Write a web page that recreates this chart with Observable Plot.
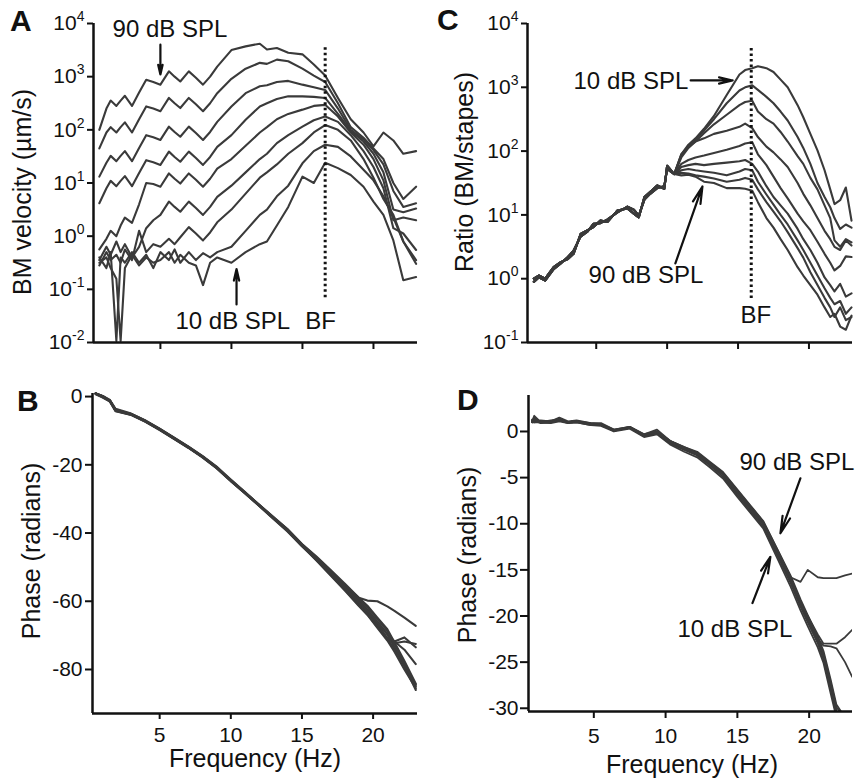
<!DOCTYPE html>
<html>
<head>
<meta charset="utf-8">
<script src="https://cdn.jsdelivr.net/npm/d3@7"></script>
<script src="https://cdn.jsdelivr.net/npm/@observablehq/plot@0.6"></script>
<style>
  html, body { margin: 0; padding: 0; background: #fff; }
  #fig { position: relative; width: 860px; height: 782px; overflow: hidden; background: #fff; }
  #fig svg { position: absolute; }
</style>
</head>
<body>
<div id="fig"></div>
<script>
const FONT = '"Liberation Sans", Arial, Helvetica, sans-serif';
const INK = "#3a3a3a";
const AXIS = "#111";
const TICK_FONT = 21;

const levels = [10, 20, 30, 40, 50, 60, 70, 80, 90]; // dB SPL
const xTicks = [5, 10, 15, 20];

// ---------- Panel A: BM velocity, values given as log10(µm/s) ----------
const freqA = [0.7,1.2,1.5,1.9,2.2,2.5,3.0,3.5,4.0,4.5,5.0,5.6,6.0,6.4,7.0,7.5,8.0,8.5,9.0,10,11,12,12.5,13.2,14,15,15.8,16.6,17.5,18.4,19.3,20,20.7,21.4,22.1,23];
const velA10 = [-0.5,-0.4,-0.6,-0.8,-1.97,-0.6,-0.35,-0.55,-0.4,-0.5,-0.45,-0.3,-0.5,-0.35,-0.5,-0.55,-0.92,-0.5,-0.4,-0.5,-0.3,-0.15,-0.1,0.2,0.55,1.12,1.0,1.38,1.28,1.15,0.93,0.65,0.4,-0.08,-0.83,-0.77];
const velA20 = [-0.4,-0.6,-0.3,-1.97,-0.4,-0.5,-0.3,-0.5,-0.35,-0.6,-0.3,-0.45,-0.25,-0.5,-0.3,-0.45,-0.32,-0.4,-0.3,-0.2,0.1,0.4,0.5,0.75,0.95,1.37,1.6,1.72,1.68,1.5,1.25,1.05,0.75,0.35,-0.1,-0.45];
const velA30 = [-0.55,-0.3,-0.45,-0.35,-0.5,-0.25,-0.45,0.1,-0.3,-0.15,-0.2,-0.05,-0.15,-0.02,0.17,0.05,-0.08,0.07,0.26,0.5,0.8,1.1,1.2,1.35,1.55,1.75,1.95,2.09,2.0,1.8,1.45,1.1,0.7,0.4,-0.1,-0.52];
const velA40 = [-0.45,-0.2,-0.35,-0.1,-0.3,-0.15,-0.4,-0.2,0.15,0.3,0.4,0.65,0.55,0.46,0.65,0.53,0.4,0.55,0.74,0.95,1.2,1.45,1.55,1.75,1.9,2.06,2.18,2.25,2.15,1.9,1.6,1.3,0.9,0.15,0.05,-0.26];
const velA50 = [-0.25,-0.05,0.1,0.0,0.2,0.35,0.25,0.6,1.0,0.98,0.93,1.18,1.08,0.99,1.18,1.06,0.93,1.08,1.27,1.45,1.7,1.95,2.05,2.2,2.3,2.38,2.45,2.47,2.25,1.95,1.72,1.45,1.05,0.3,0.35,0.3];
const velA60 = [0.62,0.9,1.04,0.94,1.04,1.13,0.94,1.19,1.43,1.39,1.34,1.59,1.49,1.4,1.59,1.47,1.34,1.49,1.68,1.9,2.19,2.44,2.5,2.58,2.63,2.63,2.62,2.6,2.3,1.98,1.78,1.55,1.2,0.5,0.45,0.52];
const velA70 = [1.12,1.38,1.51,1.41,1.51,1.6,1.41,1.66,1.9,1.86,1.81,2.06,1.96,1.87,2.06,1.94,1.81,1.96,2.15,2.44,2.69,2.82,2.84,2.9,2.92,2.85,2.8,2.75,2.4,2.0,1.82,1.62,1.35,0.85,0.55,0.62];
const velA80 = [1.65,1.95,2.05,1.95,2.05,2.14,1.95,2.2,2.44,2.4,2.35,2.6,2.5,2.41,2.6,2.48,2.35,2.5,2.69,2.96,3.15,3.26,3.24,3.32,3.29,3.15,3.02,2.9,2.5,2.05,1.85,1.65,1.45,1.0,0.7,0.93];
const velA90 = [2.0,2.4,2.55,2.45,2.55,2.64,2.45,2.7,2.94,2.9,2.85,3.1,3.0,2.91,3.1,2.98,2.85,3.0,3.19,3.5,3.57,3.62,3.51,3.54,3.45,3.42,3.23,3.02,2.6,2.2,1.95,1.69,1.95,1.8,1.55,1.6];
const yTicksA = [0.01, 0.1, 1, 10, 100, 1000, 10000];
const notesA = ["90 dB SPL", "10 dB SPL", "BF"];
const notesA_f = [1.63, 6.06, 15.2];
const notesA_v = [5600, 0.018, 0.018];
const arrowsA_f = [5.0, 10.36];
const arrowsA_from = [4000, 0.052];
const arrowsA_to = [1100, 0.24];
const bfA = {f: 16.6, top: 3500, bottom: 0.062};

// ---------- Panel C: ratio BM/stapes, values given as log10 ----------
const freqC = [0.6,0.95,1.4,2.0,2.5,3.0,3.4,3.9,4.4,4.8,5.3,5.8,6.5,7.2,7.65,8.0,8.4,8.8,9.3,9.8,10.0,10.5,11.0,11.5,12.0,12.6,13.3,14.2,15.1,15.5,16.0,16.4,17.0,17.5,18.0,18.5,19.2,19.6,20.1,20.6,21.1,21.5,21.8,22.2,22.6,23.0];
const ratioLowA = [0.0,0.05,0.0,0.18,0.26,0.31,0.39,0.70,0.76,0.81,0.91,0.89,1.07,1.10,1.02,0.96,1.28,1.36,1.46,1.41,1.77];
const ratioLowB = [-0.05,0.02,-0.03,0.15,0.24,0.34,0.44,0.66,0.74,0.86,0.87,0.93,1.04,1.13,1.08,0.99,1.24,1.33,1.42,1.45,1.72];
const ratioHigh10 = [1.64,1.95,2.1,2.2,2.35,2.55,2.88,3.2,3.27,3.3,3.33,3.3,3.24,3.12,3.0,2.72,2.53,2.27,2.01,1.7,1.4,1.17,1.23,1.43,0.91];
const ratioHigh20 = [1.64,1.93,2.08,2.18,2.32,2.5,2.75,2.95,3.0,3.03,2.96,2.85,2.75,2.62,2.48,2.22,2.05,1.8,1.5,1.28,1.12,0.95,0.78,0.85,0.8];
const ratioHigh30 = [1.64,1.9,2.05,2.15,2.28,2.42,2.57,2.72,2.77,2.79,2.62,2.5,2.43,2.3,2.15,1.92,1.8,1.58,1.4,1.15,0.95,0.6,0.5,0.62,0.57];
const ratioHigh40 = [1.64,1.95,2.07,2.15,2.2,2.27,2.32,2.38,2.43,2.36,2.22,2.07,1.98,1.87,1.75,1.5,1.33,1.15,0.95,0.75,0.62,0.5,0.45,0.6,0.52];
const ratioHigh50 = [1.64,1.8,1.86,1.9,1.93,1.97,2.02,2.08,2.12,2.14,1.95,1.78,1.6,1.42,1.26,1.02,0.9,0.76,0.58,0.39,0.25,0.13,0.2,0.35,0.34];
const ratioHigh60 = [1.64,1.75,1.78,1.8,1.78,1.8,1.82,1.84,1.86,1.8,1.68,1.45,1.28,1.15,1.02,0.78,0.62,0.45,0.25,0.02,-0.1,-0.2,-0.08,-0.28,-0.23];
const ratioHigh70 = [1.64,1.7,1.72,1.7,1.68,1.66,1.62,1.68,1.72,1.7,1.52,1.32,1.16,1.0,0.85,0.6,0.45,0.25,0.05,-0.15,-0.3,-0.4,-0.35,-0.55,-0.45];
const ratioHigh80 = [1.64,1.66,1.65,1.62,1.6,1.57,1.52,1.55,1.58,1.55,1.4,1.2,1.05,0.9,0.73,0.48,0.33,0.1,-0.1,-0.3,-0.45,-0.6,-0.45,-0.65,-0.6];
const ratioHigh90 = [1.64,1.62,1.63,1.6,1.52,1.5,1.42,1.42,1.41,1.38,1.2,0.95,0.8,0.62,0.45,0.18,0.05,-0.1,-0.25,-0.45,-0.6,-0.55,-0.75,-0.8,-0.58];
const yTicksC = [0.1, 1, 10, 100, 1000, 10000];
const notesC = ["10 dB SPL", "90 dB SPL", "BF"];
const notesC_f = [3.4, 4.46, 15.18];
const notesC_v = [955, 0.87, 0.2];
const arrowsC_f1 = [11.66, 10.58];
const arrowsC_v1 = [1280, 1.74];
const arrowsC_f2 = [14.62, 12.49];
const arrowsC_v2 = [1280, 27.9];
const bfC = {f: 15.93, top: 4070, bottom: 0.455};

// ---------- Panel B: phase (radians) of BM velocity ----------
const freqB = [0.5,1.0,1.5,1.9,3.0,4.0,5.0,6.0,7.0,8.0,9.0,10,11,12,13,14,15,16,17,18,19,19.6,20.3,21.0,21.5,22.2,23.0];
const phaseB10 = [0.8,-0.2,-1.3,-4.2,-5.3,-7.3,-9.7,-12.3,-14.9,-17.7,-20.9,-24.7,-28.3,-32.0,-35.7,-39.4,-43.8,-48.0,-52.4,-56.8,-61.4,-64.0,-67.8,-71.5,-74.8,-80.0,-85.5];
const phaseB20 = [1.0,0.1,-1.2,-4.0,-5.2,-7.2,-9.6,-12.2,-14.8,-17.6,-20.8,-24.6,-28.2,-31.9,-35.6,-39.2,-43.6,-47.8,-52.2,-56.6,-61.2,-63.8,-67.5,-71.0,-74.0,-79.0,-84.5];
const phaseB30 = [0.9,0.0,-1.1,-4.0,-5.1,-7.1,-9.5,-12.1,-14.7,-17.5,-20.7,-24.5,-28.1,-31.8,-35.4,-39.0,-43.3,-47.0,-51.0,-55.3,-59.0,-59.8,-60.0,-61.5,-62.8,-64.8,-67.2];
const phaseB40 = [0.9,-0.1,-1.2,-3.9,-5.2,-7.2,-9.6,-12.2,-14.8,-17.6,-20.8,-24.6,-28.2,-31.9,-35.6,-39.3,-43.6,-47.6,-51.9,-56.2,-60.8,-63.4,-67.0,-70.8,-72.3,-71.8,-72.5];
const phaseB50 = [0.9,0.0,-1.3,-4.1,-5.3,-7.3,-9.7,-12.3,-14.9,-17.7,-20.9,-24.7,-28.3,-32.0,-35.7,-39.4,-43.7,-47.5,-51.6,-55.8,-60.4,-62.8,-66.5,-71.0,-71.8,-70.6,-73.5];
const phaseB60 = [0.9,0.1,-1.1,-3.8,-5.1,-7.1,-9.5,-12.1,-14.7,-17.5,-20.7,-24.5,-28.1,-31.8,-35.5,-39.1,-43.4,-47.3,-51.5,-55.6,-60.0,-62.5,-66.0,-69.5,-71.8,-74.2,-78.4];
const phaseB70 = [0.7,-0.3,-1.5,-4.3,-5.4,-7.4,-9.8,-12.4,-15.0,-17.8,-21.0,-24.8,-28.4,-32.1,-35.9,-39.6,-43.9,-47.7,-51.8,-55.9,-60.2,-62.8,-66.2,-69.8,-73.4,-79.0,-86.0];
const phaseB80 = [0.9,0.2,-1.0,-3.6,-5.0,-7.0,-9.4,-12.0,-14.6,-17.4,-20.5,-24.3,-28.0,-31.7,-35.3,-38.9,-43.2,-46.8,-50.8,-54.8,-59.0,-61.3,-64.8,-68.2,-72.0,-77.5,-84.2];
const phaseB90 = [0.9,0.0,-1.2,-4.0,-5.2,-7.2,-9.6,-12.2,-14.8,-17.6,-20.8,-24.6,-28.2,-31.9,-35.6,-39.2,-43.5,-47.2,-51.2,-55.2,-59.4,-61.8,-65.2,-68.7,-72.5,-78.2,-85.0];
const yTicksB = [0, -20, -40, -60, -80];

// ---------- Panel D: phase (radians) of ratio ----------
const freqD = [0.7,0.85,1.3,2.0,2.6,3.2,3.8,4.8,5.5,6.4,7.5,8.5,9.4,10.3,11.3,12.2,13.1,14.0,15.0,15.9,16.8,17.8,18.7,19.4,19.9,20.6,21.0,21.5,21.9,22.5,23.0];
const phaseD10 = [1.0,1.2,0.9,1.0,1.2,0.9,1.0,0.7,0.6,0.0,0.3,-0.6,-0.3,-1.4,-2.2,-2.8,-3.9,-5.1,-7.1,-8.8,-10.5,-13.8,-16.8,-19.4,-21.1,-23.4,-25.1,-28.4,-31.0,null,null];
const phaseD20 = [1.1,1.7,1.0,1.1,1.4,1.0,1.1,0.8,0.7,0.1,0.4,-0.5,-0.2,-1.3,-2.0,-2.6,-3.7,-4.9,-6.9,-8.6,-10.3,-13.5,-16.4,-19.0,-20.7,-22.9,-24.7,-27.9,-30.5,null,null];
const phaseD30 = [1.2,1.0,1.1,1.0,1.3,1.0,1.15,0.85,0.8,0.15,0.45,-0.4,-0.1,-1.1,-1.85,-2.4,-3.5,-4.6,-6.6,-8.3,-10.0,-13.2,-16.0,-18.6,-20.3,-22.6,-24.3,-27.6,-30.2,null,null];
const phaseD40 = [1.3,1.1,1.2,1.1,1.5,1.1,1.2,0.9,0.9,0.2,0.5,-0.3,0.2,-1.0,-1.7,-2.2,-3.3,-4.4,-6.3,-8.0,-9.7,-12.8,-15.6,-18.2,-19.9,-22.2,-23.8,-26.9,-29.6,-31.0,null];
const phaseD50 = [1.0,1.5,1.0,1.2,1.3,1.0,1.1,0.8,0.8,0.1,0.5,-0.4,0.0,-1.0,-1.8,-2.3,-3.4,-4.5,-6.4,-8.1,-9.8,-12.9,-15.8,-18.4,-20.2,-22.5,-23.2,-23.3,-23.5,-25.0,-26.6];
const phaseD60 = [1.1,1.1,1.0,1.0,1.2,1.0,1.1,0.8,0.7,0.1,0.4,-0.4,-0.1,-1.1,-1.8,-2.4,-3.5,-4.6,-6.5,-8.2,-9.9,-13.0,-15.9,-18.5,-20.0,-22.0,-23.0,-23.0,-23.0,-22.3,-21.5];
const phaseD70 = [1.2,1.3,1.1,1.1,1.3,1.0,1.1,0.9,0.8,0.2,0.5,-0.3,0.0,-1.0,-1.7,-2.3,-3.4,-4.5,-6.4,-8.1,-9.8,-12.9,-15.8,-16.3,-15.0,-15.8,-15.9,-15.9,-15.9,-15.6,-15.4];
const phaseD80 = [1.0,1.0,1.0,0.9,1.1,0.9,1.0,0.7,0.7,0.1,0.4,-0.5,-0.2,-1.2,-1.9,-2.5,-3.6,-4.7,-6.7,-8.4,-10.1,-13.3,-16.2,-18.8,-20.5,-22.9,-24.6,-27.9,-30.6,null,null];
const phaseD90 = [1.1,1.2,1.0,1.0,1.2,1.0,1.1,0.8,0.7,0.1,0.4,-0.4,-0.1,-1.1,-1.8,-2.4,-3.5,-4.6,-6.5,-8.2,-9.9,-13.0,-15.9,-18.5,-20.1,-22.4,-24.1,-27.2,-29.9,-31.0,null];
const yTicksD = [0, -5, -10, -15, -20, -25, -30];
const notesD = ["90 dB SPL", "10 dB SPL"];
const notesD_f = [15.15, 10.83];
const notesD_v = [-4.22, -22.3];
const arrowsD_f1 = [19.39, 16.05];
const arrowsD_v1 = [-5.08, -18.6];
const arrowsD_f2 = [18.0, 17.3];
const arrowsD_v2 = [-11.03, -13.6];

// ---------- helpers ----------
function rowsFrom(freqs, series, conv) {
  const out = [];
  series.forEach((arr, i) => arr.forEach((v, j) => {
    out.push({f: freqs[j], v: v == null ? NaN : conv(v), level: levels[i]});
  }));
  return out;
}
const pow10 = v => Math.pow(10, v);
const ident = v => v;
const logFmt = d => "10^" + Math.round(Math.log10(d));

function styleTicks(svg) {
  const s = d3.select(svg);
  s.selectAll('g[aria-label$="tick label"]')
    .attr("font-size", TICK_FONT).attr("font-family", FONT)
    .style("font-size", TICK_FONT + "px").style("font-family", FONT);
  s.selectAll('g[aria-label$="tick label"] text')
    .style("font-size", TICK_FONT + "px").style("font-family", FONT).attr("fill", AXIS);
}
function superscriptTicks(svg) {
  d3.select(svg).selectAll('g[aria-label="y-axis tick label"] text').each(function () {
    const m = /^10\^(-?\d+)$/.exec(this.textContent);
    if (!m) return;
    const t = d3.select(this);
    t.text("10");
    t.append("tspan").attr("dy", -9).style("font-size", "14px").text(m[1]);
  });
}
function addText(svg, o) {
  d3.select(svg).append("text")
    .attr("transform", `translate(${o.x},${o.y}) rotate(${o.rotate || 0})`)
    .attr("text-anchor", o.anchor || "middle")
    .attr("font-family", FONT)
    .attr("font-size", o.size || 25)
    .attr("font-weight", o.weight || "normal")
    .attr("fill", AXIS)
    .text(o.text);
}
function place(svg, left, top) {
  svg.style.position = "absolute";
  svg.style.left = left + "px";
  svg.style.top = top + "px";
}
const baseStyle = `font-family:${FONT};font-size:${TICK_FONT}px;color:${AXIS};background:transparent;overflow:visible;`;
const fig = document.getElementById("fig");
const arrowStyle = {stroke: AXIS, strokeWidth: 2.2, headLength: 12, headAngle: 26};
const noteStyle = {textAnchor: "start", lineAnchor: "bottom", fontSize: 24, fill: AXIS};

// ---------- Panel A ----------
const rowsA = rowsFrom(freqA, [velA10, velA20, velA30, velA40, velA50, velA60, velA70, velA80, velA90], pow10);
const noteRowsA = notesA.map((t, i) => ({label: t, f: notesA_f[i], v: notesA_v[i]}));
const arrowRowsA = arrowsA_f.map((f, i) => ({f1: f, v1: arrowsA_from[i], f2: f, v2: arrowsA_to[i]}));
const xDomA = [0.29, 23.1];
const plotA = Plot.plot({
  width: 430, height: 365,
  marginLeft: 93, marginRight: 13, marginTop: 23, marginBottom: 23,
  style: baseStyle,
  x: {domain: xDomA, label: null},
  y: {type: "log", domain: [0.01, 10000], label: null},
  marks: [
    Plot.line(rowsA, {x: "f", y: "v", z: "level", stroke: INK, strokeWidth: 2.1, strokeLinejoin: "round"}),
    Plot.ruleX([bfA], {x: "f", y1: "top", y2: "bottom", stroke: AXIS, strokeWidth: 3, strokeDasharray: "2.5,3"}),
    Plot.arrow(arrowRowsA, {x1: "f1", y1: "v1", x2: "f2", y2: "v2", ...arrowStyle}),
    Plot.text(noteRowsA, {x: "f", y: "v", text: "label", ...noteStyle}),
    Plot.axisY({ticks: yTicksA, tickSize: 6, tickPadding: 3, strokeWidth: 2, stroke: AXIS, fontSize: TICK_FONT, tickFormat: logFmt, label: null}),
    Plot.axisX({ticks: xTicks, tickSize: 7, strokeWidth: 2, stroke: AXIS, tickFormat: () => "", label: null}),
    Plot.ruleX([xDomA[0]], {stroke: AXIS, strokeWidth: 2.5}),
    Plot.ruleY([0.01], {stroke: AXIS, strokeWidth: 2.5})
  ]
});
styleTicks(plotA);
superscriptTicks(plotA);
addText(plotA, {x: 10, y: 31, text: "A", size: 30, weight: "bold", anchor: "start"});
addText(plotA, {x: 31, y: 192, text: "BM velocity (µm/s)", rotate: -90});
place(plotA, 0, 0);
fig.appendChild(plotA);

// ---------- Panel C ----------
const ratioSeries = [
  [...ratioLowA, ...ratioHigh10], [...ratioLowB, ...ratioHigh20], [...ratioLowA, ...ratioHigh30],
  [...ratioLowB, ...ratioHigh40], [...ratioLowA, ...ratioHigh50], [...ratioLowB, ...ratioHigh60],
  [...ratioLowA, ...ratioHigh70], [...ratioLowB, ...ratioHigh80], [...ratioLowA, ...ratioHigh90]
];
const rowsC = rowsFrom(freqC, ratioSeries, pow10);
const noteRowsC = notesC.map((t, i) => ({label: t, f: notesC_f[i], v: notesC_v[i]}));
const arrowRowsC = arrowsC_f1.map((f, i) => ({f1: f, v1: arrowsC_v1[i], f2: arrowsC_f2[i], v2: arrowsC_v2[i]}));
const xDomC = [0.155, 23.07];
const plotC = Plot.plot({
  width: 430, height: 365,
  marginLeft: 97, marginRight: 8, marginTop: 23, marginBottom: 23,
  style: baseStyle,
  x: {domain: xDomC, label: null},
  y: {type: "log", domain: [0.1, 10000], label: null},
  marks: [
    Plot.line(rowsC, {x: "f", y: "v", z: "level", stroke: INK, strokeWidth: 2.1, strokeLinejoin: "round"}),
    Plot.ruleX([bfC], {x: "f", y1: "top", y2: "bottom", stroke: AXIS, strokeWidth: 3, strokeDasharray: "2.5,3"}),
    Plot.arrow(arrowRowsC, {x1: "f1", y1: "v1", x2: "f2", y2: "v2", ...arrowStyle}),
    Plot.text(noteRowsC, {x: "f", y: "v", text: "label", ...noteStyle}),
    Plot.axisY({ticks: yTicksC, tickSize: 6, tickPadding: 3, strokeWidth: 2, stroke: AXIS, fontSize: TICK_FONT, tickFormat: logFmt, label: null}),
    Plot.axisX({ticks: xTicks, tickSize: 7, strokeWidth: 2, stroke: AXIS, tickFormat: () => "", label: null}),
    Plot.ruleX([xDomC[0]], {stroke: AXIS, strokeWidth: 2.5}),
    Plot.ruleY([0.1], {stroke: AXIS, strokeWidth: 2.5})
  ]
});
styleTicks(plotC);
superscriptTicks(plotC);
addText(plotC, {x: 7, y: 30, text: "C", size: 30, weight: "bold", anchor: "start"});
addText(plotC, {x: 43, y: 172, text: "Ratio (BM/stapes)", rotate: -90});
place(plotC, 430, 0);
fig.appendChild(plotC);

// ---------- Panel B ----------
const rowsB = rowsFrom(freqB, [phaseB10, phaseB20, phaseB30, phaseB40, phaseB50, phaseB60, phaseB70, phaseB80, phaseB90], ident);
const xDomB = [0.28, 23.12];
const yDomB = [-92.9, 0.9];
const plotB = Plot.plot({
  width: 430, height: 417,
  marginLeft: 92, marginRight: 13, marginTop: 28, marginBottom: 69,
  style: baseStyle,
  x: {domain: xDomB, label: null},
  y: {domain: yDomB, label: null},
  marks: [
    Plot.line(rowsB, {x: "f", y: "v", z: "level", stroke: INK, strokeWidth: 2.1, strokeLinejoin: "round"}),
    Plot.axisY({ticks: yTicksB, tickSize: 7, tickPadding: 3, strokeWidth: 2, stroke: AXIS, fontSize: TICK_FONT, tickFormat: d => String(d), label: null}),
    Plot.axisX({ticks: xTicks, tickSize: 6, tickPadding: 8, strokeWidth: 2, stroke: AXIS, fontSize: TICK_FONT, tickFormat: d => String(d), label: null}),
    Plot.ruleX([xDomB[0]], {stroke: AXIS, strokeWidth: 2.5}),
    Plot.ruleY([yDomB[0]], {stroke: AXIS, strokeWidth: 2.5})
  ]
});
styleTicks(plotB);
addText(plotB, {x: 17, y: 46, text: "B", size: 30, weight: "bold", anchor: "start"});
addText(plotB, {x: 40, y: 186, text: "Phase (radians)", rotate: -90});
addText(plotB, {x: 255, y: 402, text: "Frequency (Hz)"});
place(plotB, 0, 365);
fig.appendChild(plotB);

// ---------- Panel D ----------
const rowsD = rowsFrom(freqD, [phaseD10, phaseD20, phaseD30, phaseD40, phaseD50, phaseD60, phaseD70, phaseD80, phaseD90], ident);
const noteRowsD = notesD.map((t, i) => ({label: t, f: notesD_f[i], v: notesD_v[i]}));
const arrowRowsD = arrowsD_f1.map((f, i) => ({f1: f, v1: arrowsD_v1[i], f2: arrowsD_f2[i], v2: arrowsD_v2[i]}));
const xDomD = [0.45, 23.02];
const yDomD = [-30.35, 3.9];
const plotD = Plot.plot({
  width: 430, height: 417,
  marginLeft: 98, marginRight: 8, marginTop: 30, marginBottom: 71,
  style: baseStyle,
  x: {domain: xDomD, label: null},
  y: {domain: yDomD, label: null},
  marks: [
    Plot.line(rowsD, {x: "f", y: "v", z: "level", stroke: INK, strokeWidth: 1.8, strokeLinejoin: "round", clip: true}),
    Plot.arrow(arrowRowsD, {x1: "f1", y1: "v1", x2: "f2", y2: "v2", ...arrowStyle}),
    Plot.text(noteRowsD, {x: "f", y: "v", text: "label", ...noteStyle}),
    Plot.axisY({ticks: yTicksD, tickSize: 8, tickPadding: 2, strokeWidth: 2, stroke: AXIS, fontSize: TICK_FONT, tickFormat: d => String(d), label: null}),
    Plot.axisX({ticks: xTicks, tickSize: 7, tickPadding: 10, strokeWidth: 2, stroke: AXIS, fontSize: TICK_FONT, tickFormat: d => String(d), label: null}),
    Plot.ruleX([xDomD[0]], {stroke: AXIS, strokeWidth: 2.5}),
    Plot.ruleY([yDomD[0]], {stroke: AXIS, strokeWidth: 2.5})
  ]
});
styleTicks(plotD);
addText(plotD, {x: 27, y: 45, text: "D", size: 30, weight: "bold", anchor: "start"});
addText(plotD, {x: 46, y: 190, text: "Phase (radians)", rotate: -90});
addText(plotD, {x: 262, y: 408, text: "Frequency (Hz)"});
place(plotD, 430, 365);
fig.appendChild(plotD);
</script>
</body>
</html>
